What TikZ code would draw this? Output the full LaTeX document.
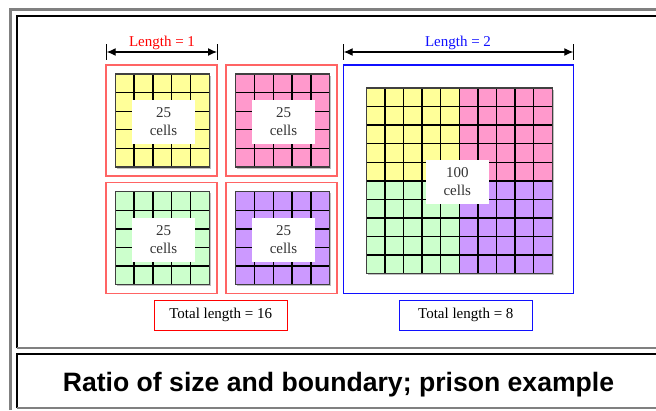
\documentclass[tikz,border=0pt]{standalone}
\usepackage{fontspec}
\setmainfont{Liberation Serif}
\setsansfont{Liberation Sans}
\usetikzlibrary{arrows.meta,calc}

\definecolor{cyellow}{HTML}{FFFF99}
\definecolor{cpink}{HTML}{FF99CC}
\definecolor{cgreen}{HTML}{CCFFCC}
\definecolor{cpurple}{HTML}{CC99FF}
\definecolor{framegray}{HTML}{808080}
\definecolor{boxred}{HTML}{FF6464}
\definecolor{boxblue}{HTML}{1010FF}

% cell grid: x0, y0, width, height, cells per side
\newcommand{\cellgrid}[5]{%
  \foreach \k in {1,...,#5}{%
    \pgfmathsetmacro{\xx}{#1+\k*#3/#5}%
    \pgfmathsetmacro{\yy}{#2+\k*#4/#5}%
    \ifnum\k<#5
      \draw[gridline] (\xx,#2) -- (\xx,#2+#4);
      \draw[gridline] (#1,\yy) -- (#1+#3,\yy);
    \fi
  }%
  \draw[gridedge] (#1,#2) rectangle ++(#3,#4);
}

\begin{document}
\begin{tikzpicture}[x=1pt,y=-1pt,
  gridline/.style={draw=black, line width=1.3pt},
  gridedge/.style={draw=black!75, line width=1.4pt},
  shadow/.style={fill=black!25},
  squarebox/.style={draw=boxred, line width=1.1pt, minimum width=111pt, minimum height=111pt, inner sep=0pt},
  bigbox/.style={draw=boxblue, line width=1.1pt, minimum width=229.6pt, minimum height=228.3pt, inner sep=0pt},
  cellnote/.style={fill=white, text=black!80, minimum width=63pt, minimum height=44pt, inner sep=0pt, align=center, font=\fontsize{15}{18}\selectfont},
  totalbox/.style={line width=1.1pt, minimum width=133pt, minimum height=30pt, inner sep=0pt, font=\fontsize{15}{18}\selectfont},
  lengthtext/.style={font=\fontsize{15}{18}\selectfont, anchor=base},
  tick/.style={draw=black, line width=0.9pt},
  dimarrow/.style={draw=black, line width=1.2pt, {Latex[length=9pt,width=8pt]}-{Latex[length=9pt,width=8pt]}}
]
\useasboundingbox (0,0) rectangle (656,410);

% page frame
\draw[framegray, line width=3pt] (10.5,410) -- (10.5,9.5) -- (656,9.5);
% upper panel: dark top/left edge, light bottom edge
\draw[black, line width=1.5pt] (17,348) -- (17,16) -- (656,16);
\draw[framegray, line width=1.2pt] (17,348) -- (656,348);
% lower panel
\draw[black, line width=1.5pt] (17,408) -- (17,354) -- (656,354);
\draw[framegray, line width=1.2pt] (17,408) -- (656,408);

% four small prisons
\node[squarebox] (sqA) at (161.5,120.5) {};
\node[squarebox] (sqB) at (281.5,120.5) {};
\node[squarebox] (sqC) at (161.5,238) {};
\node[squarebox] (sqD) at (281.5,238) {};

\fill[shadow] (116.8,75.5) rectangle ++(94,93);
\fill[cyellow] (115.3,74) rectangle ++(94,93);
\cellgrid{115.3}{74}{94}{93}{5}
\fill[shadow] (237.2,75.5) rectangle ++(94,93);
\fill[cpink] (235.7,74) rectangle ++(94,93);
\cellgrid{235.7}{74}{94}{93}{5}
\fill[shadow] (116.8,193.2) rectangle ++(94,93);
\fill[cgreen] (115.3,191.7) rectangle ++(94,93);
\cellgrid{115.3}{191.7}{94}{93}{5}
\fill[shadow] (237.2,193.2) rectangle ++(94,93);
\fill[cpurple] (235.7,191.7) rectangle ++(94,93);
\cellgrid{235.7}{191.7}{94}{93}{5}

\node[cellnote] (nA) at (163.5,122) {25\\cells};
\node[cellnote] (nB) at (283.5,122) {25\\cells};
\node[cellnote] (nC) at (163.5,239.5) {25\\cells};
\node[cellnote] (nD) at (283.5,239.5) {25\\cells};

% large prison
\node[bigbox] (big) at (458.5,179.15) {};
\fill[shadow] (367.8,89.5) rectangle ++(186,185.7);
\fill[cyellow] (366.3,88) rectangle (459.3,180.85);
\fill[cpink] (459.3,88) rectangle (552.3,180.85);
\fill[cgreen] (366.3,180.85) rectangle (459.3,273.7);
\fill[cpurple] (459.3,180.85) rectangle (552.3,273.7);
\cellgrid{366.3}{88}{186}{185.7}{10}
\node[cellnote, minimum width=62.7pt] (nBig) at (457.3,182) {100\\cells};

% dimension arrows
\coordinate (a1t) at (106.7,44); \coordinate (a1b) at (106.7,60);
\coordinate (a2t) at (217,44);   \coordinate (a2b) at (217,60);
\coordinate (b1t) at (343.7,44); \coordinate (b1b) at (343.7,60);
\coordinate (b2t) at (573.3,44); \coordinate (b2b) at (573.3,60);
\draw[tick] (a1t) -- (a1b);
\draw[tick] (a2t) -- (a2b);
\draw[tick] (b1t) -- (b1b);
\draw[tick] (b2t) -- (b2b);
\draw[dimarrow] ($(a1t)!0.5!(a1b)$) -- ($(a2t)!0.5!(a2b)$);
\draw[dimarrow] ($(b1t)!0.5!(b1b)$) -- ($(b2t)!0.5!(b2b)$);
\node[lengthtext, text=red] (len1) at (162,46) {Length = 1};
\node[lengthtext, text=boxblue] (len2) at (458,46) {Length = 2};

% totals
\node[totalbox, draw=red] (tot1) at (220.7,315.3) {Total length = 16};
\node[totalbox, draw=boxblue] (tot2) at (465.8,315.3) {Total length = 8};

% caption
\node[anchor=base, font=\sffamily\bfseries\fontsize{26.6}{30}\selectfont] (title) at (338.5,391.7) {Ratio of size and boundary; prison example};
\end{tikzpicture}
\end{document}
